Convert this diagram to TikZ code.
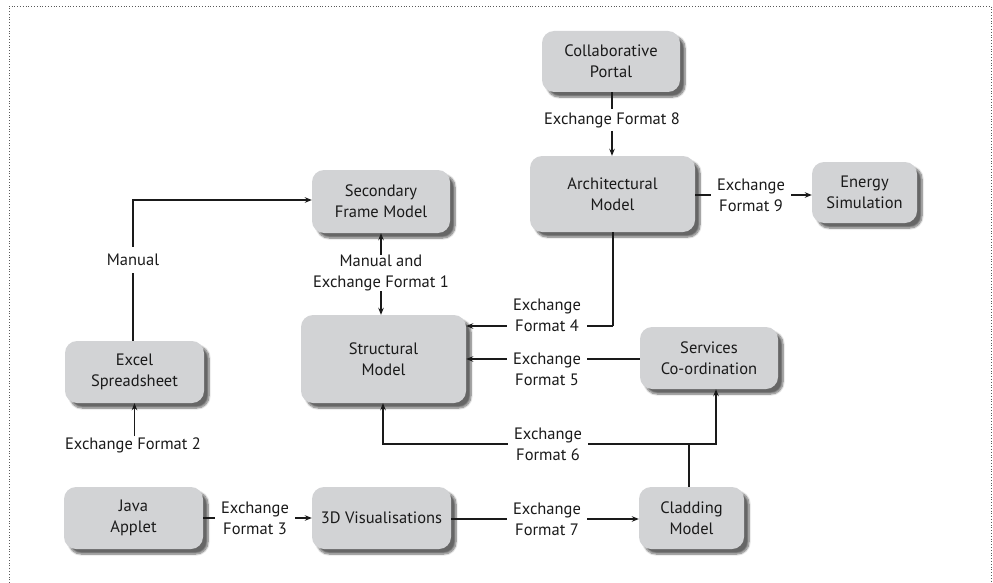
\documentclass[tikz,border=0pt]{standalone}
\usepackage{fontspec}
\setmainfont{PT Sans}
\usetikzlibrary{arrows.meta,shadows.blur,calc}

\definecolor{boxgray}{HTML}{D2D3D5}
\definecolor{inkline}{HTML}{1A1A1A}

\tikzset{
  model/.style={rounded corners=12pt, fill=boxgray, draw=none,
    minimum width=#1, align=center, inner sep=0pt, text=inkline,
    blur shadow={shadow xshift=5pt, shadow yshift=-5pt, shadow blur steps=8, shadow opacity=60}},
  model/.default=138pt,
  lbl/.style={align=center, fill=white, inner xsep=6pt, inner ysep=1pt, text=inkline},
  link/.style={line width=1.4pt, draw=inkline, -{Stealth[length=7pt,width=5.5pt]}},
  plain/.style={line width=1.4pt, draw=inkline},
  every node/.style={font=\fontsize{16.5}{21}\selectfont}
}

\begin{document}
\begin{tikzpicture}[x=1pt, y=-1pt]
  \useasboundingbox (0,0) rectangle (993,583);
  % dotted frame, open at the bottom
  \draw[dotted, line width=0.8pt, gray!70!black] (9,583) -- (9,6) -- (991,6) -- (991,583);

  % models
  \node[model, minimum height=61pt] (portal) at (611,61.5) {Collaborative\\Portal};
  \node[model=165pt, minimum height=76pt] (arch) at (612.5,194) {Architectural\\Model};
  \node[model=105pt, minimum height=61pt] (energy) at (864.5,192.5) {Energy\\Simulation};
  \node[model, minimum height=63pt] (secondary) at (381,201.5) {Secondary\\Frame Model};
  \node[model=165pt, minimum height=88pt] (struct) at (383.5,359) {Structural\\Model};
  \node[model=139pt, minimum height=62pt] (excel) at (134.5,372) {Excel\\Spreadsheet};
  \node[model=139pt, minimum height=62pt] (java) at (133.5,518) {Java\\Applet};
  \node[model=139pt, minimum height=62pt] (vis) at (381.5,518) {3D Visualisations};
  \node[model, minimum height=62pt] (services) at (709,358) {Services\\Co-ordination};
  \node[model=105pt, minimum height=62pt] (cladding) at (691.5,518) {Cladding\\Model};

  % turning points
  \coordinate (sprUp) at (133,200);
  \coordinate (archDown) at (613,326);
  \coordinate (cladUp) at (689,444);
  \coordinate (servDown) at (716,444);
  \coordinate (structDown) at (383,444);

  % Collaborative Portal -> Architectural Model
  \node[lbl, inner ysep=3pt] (f8) at (612,120) {Exchange Format 8};
  \draw[plain] (portal.south -| f8) -- (f8);
  \draw[link] (f8) -- (f8 |- arch.north);

  % Architectural Model -> Energy Simulation
  \node[lbl] (f9) at (751,195) {Exchange\\Format 9};
  \draw[plain] (arch.east |- f9) -- (f9);
  \draw[link] (f9) -- (energy.west |- f9);

  % Architectural Model -> Structural Model
  \draw[plain] (arch.south -| archDown) -- (archDown);
  \draw[link] (archDown) -- (struct.east |- archDown);
  \node[lbl] (f4) at (547,315) {Exchange\\Format 4};

  % Services Co-ordination -> Structural Model
  \draw[link] (services.west |- 0,359) -- (struct.east |- 0,359);
  \node[lbl] (f5) at (547,369) {Exchange\\Format 5};

  % Cladding Model -> Structural Model and Services Co-ordination
  \draw[plain] (cladding.north -| cladUp) -- (cladUp);
  \draw[link] (cladUp) -- (structDown) -- (struct.south -| structDown);
  \draw[link] (cladUp) -- (servDown) -- (services.south -| servDown);
  \node[lbl] (f6) at (548,444) {Exchange\\Format 6};

  % 3D Visualisations -> Cladding Model
  \draw[link] (vis.east |- 0,519) -- (cladding.west |- 0,519);
  \node[lbl] (f7) at (547,519) {Exchange\\Format 7};

  % Java Applet -> 3D Visualisations
  \node[lbl] (f3) at (255,518) {Exchange\\Format 3};
  \draw[plain] (java.east |- f3) -- (f3);
  \draw[link] (f3) -- (vis.west |- f3);

  % into the Excel Spreadsheet
  \node[lbl] (f2) at (133,445) {Exchange Format 2};
  \draw[link] (f2.north -| excel.south) -- (excel.south);

  % Excel Spreadsheet -> Secondary Frame Model
  \draw[link] (excel.north -| sprUp) -- (sprUp) -- (secondary.west |- sprUp);
  \node[lbl, inner ysep=7pt] (manual) at (133,260) {Manual};

  % Secondary Frame Model <-> Structural Model
  \node[lbl, inner ysep=0pt] (f1) at (381,273) {Manual and\\Exchange Format 1};
  \draw[link] (f1) -- (f1 |- secondary.south);
  \draw[link] (f1) -- (f1 |- struct.north);
\end{tikzpicture}
\end{document}
